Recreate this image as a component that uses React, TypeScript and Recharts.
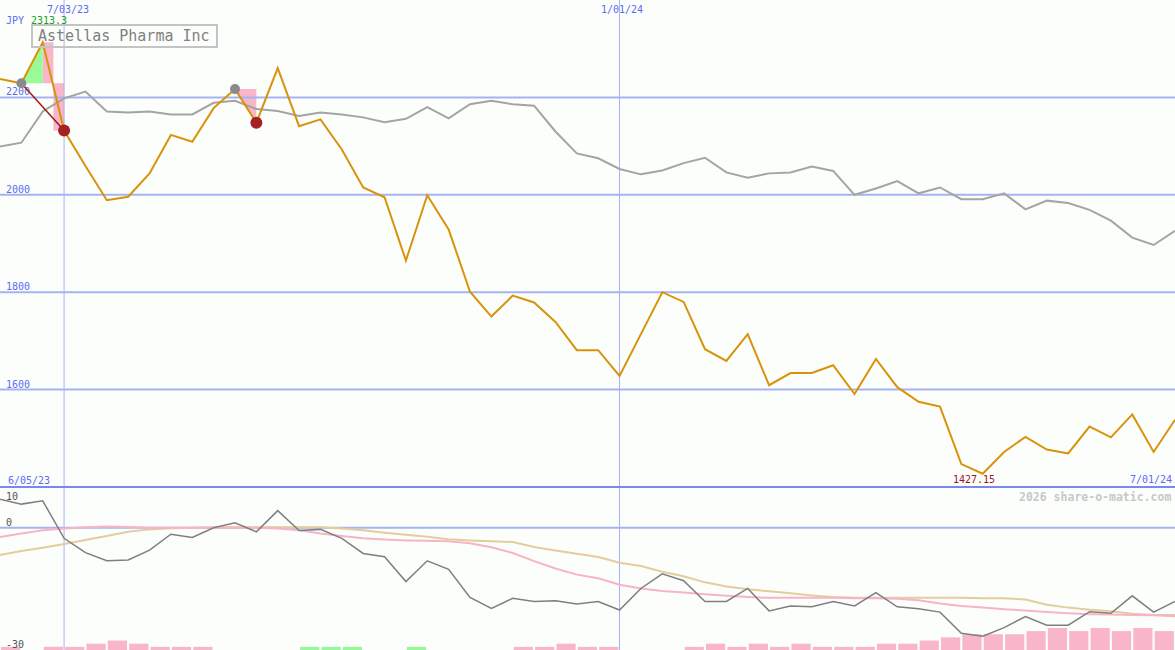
import React from "react";
import {
  ComposedChart,
  Line,
  Area,
  Bar,
  Cell,
  XAxis,
  YAxis,
  ReferenceLine,
  ReferenceArea,
  ReferenceDot,
} from "recharts";

// weekly closes, 6/12/23 .. 7/01/24 (JPY)
const price = [
  2238, 2229, 2313.3, 2132, 2059, 1989, 1996, 2044, 2123, 2109, 2178, 2217, 2148, 2260,
  2141, 2155, 2093, 2015, 1995, 1865, 1999, 1929, 1801, 1750, 1793, 1779, 1739, 1681,
  1681, 1628, 1714, 1800, 1780, 1683, 1659, 1714, 1609, 1634, 1634, 1650, 1591, 1663,
  1605, 1575, 1565, 1447, 1427.15, 1472, 1503, 1477, 1469, 1524, 1502, 1549, 1472, 1538,
];
// grey comparison line
const market = [
  2099, 2107, 2171, 2198, 2212, 2171, 2169, 2171, 2165, 2165, 2189, 2193, 2176, 2172,
  2162, 2169, 2165, 2159, 2149, 2156, 2180, 2157, 2186, 2193, 2186, 2183, 2130, 2085,
  2075, 2053, 2042, 2050, 2065, 2076, 2046, 2035, 2044, 2046, 2058, 2049, 2000, 2013,
  2028, 2003, 2015, 1991, 1991, 2003, 1970, 1988, 1983, 1969, 1947, 1912, 1897, 1926,
];
// lower panel
const momentum = [
  7.0, 5.8, 6.6, -2.6, -6.1, -8.1, -7.9, -5.5, -1.6, -2.4, 0.0, 1.2, -1.0, 4.2,
  -0.7, -0.4, -2.6, -6.3, -7.1, -13.2, -8.1, -10.2, -17.1, -19.8, -17.3, -18.1, -17.9, -18.7,
  -18.1, -20.2, -14.9, -11.3, -13.0, -18.1, -18.1, -14.9, -20.4, -19.2, -19.4, -18.1, -19.2, -15.9,
  -19.4, -19.9, -20.7, -25.9, -26.6, -24.5, -21.8, -23.9, -23.9, -20.6, -21.0, -16.7, -20.7, -18.1,
];
const fastAvg = [
  -2.3, -1.4, -0.6, -0.2, 0.1, 0.3, 0.2, 0.0, 0.0, 0.0, 0.0, 0.0, 0.0, -0.2,
  -0.6, -1.4, -2.0, -2.6, -2.9, -3.1, -3.2, -3.3, -3.8, -4.8, -6.2, -8.2, -10.0, -11.5,
  -12.4, -14.0, -14.9, -15.5, -15.9, -16.3, -16.7, -17.0, -17.2, -17.2, -17.2, -17.2, -17.3, -17.3,
  -17.4, -17.8, -18.6, -19.2, -19.6, -20.0, -20.3, -20.7, -21.0, -21.2, -21.3, -21.4, -21.5, -21.7,
];
const slowAvg = [
  -6.7, -5.7, -4.9, -4.0, -3.0, -2.0, -1.0, -0.4, -0.1, 0.0, 0.1, 0.1, 0.1, 0.1,
  0.1, 0.1, -0.2, -0.6, -1.2, -1.7, -2.2, -2.8, -3.1, -3.3, -3.5, -4.7, -5.6, -6.4,
  -7.2, -8.6, -9.4, -10.8, -11.9, -13.4, -14.4, -15.1, -15.6, -16.1, -16.6, -17.0, -17.2, -17.2,
  -17.2, -17.2, -17.2, -17.2, -17.3, -17.3, -17.6, -18.9, -19.6, -20.1, -20.5, -21.1, -21.4, -21.4,
];
// histogram blocks: negative = pink, positive = green
const blocks = [
  -1, 0, -1, -1, -2, -3, -2, -1, -1, -1, 0, 0, 0, 0,
  1, 1, 1, 0, 0, 1, 0, 0, 0, 0, -1, -1, -2, -1,
  -1, 0, 0, 0, -1, -2, -1, -2, -1, -2, -1, -1, -1, -2,
  -2, -3, -4, -5, -5, -5, -6, -7, -6, -7, -6, -7, -6, 0,
];

const mainTicks = [1600, 1800, 2000, 2200];
const lowTicks = [-30, 0, 10];
const dateIdx = [3, 29];
const dateText = ["7/03/23", "1/01/24"];
const sigFrom = [1, 11];
const sigTo = [3, 12];

const W = 1175;
const LAST = price.length - 1;
const BG = "#fcfefc";
const GRID = "#a6b3f2";
const BLUE = "#5b6cf2";
const FONT = "'DejaVu Sans Mono', monospace";

const mainData = price.map((p, i) => ({
  i,
  price: p,
  market: market[i],
  rise: i === sigFrom[0] ? [p, p] : i === sigFrom[0] + 1 ? [price[sigFrom[0]], p] : null,
  drop: i === sigFrom[1] ? [p, p] : i === sigTo[1] ? [p, price[sigFrom[1]]] : null,
  sig: i === sigFrom[0] || i === sigTo[0] ? p : null,
}));

const lowData = momentum.map((m, i) => ({
  i,
  bx: i + 0.5,
  mom: m,
  fast: fastAvg[i],
  slow: slowAvg[i],
  block: Math.abs(blocks[i]),
}));

function GridLabel(props: any) {
  const { viewBox, text, dy, color } = props;
  if (!viewBox) return null;
  return (
    <text x={6} y={viewBox.y + dy} fill={color} fontSize={10} fontFamily={FONT}>
      {text}
    </text>
  );
}

export default function App() {
  const pk = sigFrom[0] + 1;
  return (
    <div style={{ position: "absolute", left: 0, top: 0, width: W, height: 650, background: BG, overflow: "hidden" }}>
      <div style={{ position: "absolute", left: 0, top: 0 }}>
        <ComposedChart width={W} height={487} data={mainData} margin={{ top: 0, right: 0, bottom: 0, left: 0 }}>
          <XAxis dataKey="i" type="number" domain={[0, LAST]} hide allowDataOverflow />
          <YAxis domain={[1400, 2400]} hide />
          {mainTicks.map((v) => (
            <ReferenceLine
              key={v}
              y={v}
              stroke={GRID}
              strokeWidth={2}
              label={<GridLabel text={String(v)} dy={-2} color={BLUE} />}
            />
          ))}
          {dateIdx.map((d) => (
            <ReferenceLine key={d} x={d} stroke={GRID} strokeWidth={1} />
          ))}
          <ReferenceArea x1={pk} x2={pk + 0.5} y1={price[sigFrom[0]]} y2={price[pk]} fill="#f9b6c9" fillOpacity={1} stroke="none" />
          <ReferenceArea x1={pk + 0.5} x2={sigTo[0]} y1={price[sigTo[0]]} y2={price[sigFrom[0]]} fill="#f9b6c9" fillOpacity={1} stroke="none" />
          <Area dataKey="rise" fill="#98fb98" fillOpacity={1} stroke="none" dot={false} activeDot={false} isAnimationActive={false} />
          <Area dataKey="drop" fill="#f9b6c9" fillOpacity={1} stroke="none" dot={false} activeDot={false} isAnimationActive={false} />
          {sigTo.map((t) => (
            <ReferenceDot key={"t" + t} x={t} y={price[t]} r={6} fill="#a52222" stroke="none" />
          ))}
          {sigFrom.map((f) => (
            <ReferenceDot key={"f" + f} x={f} y={price[f]} r={5} fill="#8a8a8a" stroke="none" />
          ))}
          <Line dataKey="market" stroke="#a4a4a4" strokeWidth={2} dot={false} activeDot={false} isAnimationActive={false} />
          <Line dataKey="sig" stroke="#a01818" strokeWidth={1.5} dot={false} activeDot={false} connectNulls isAnimationActive={false} />
          <Line dataKey="price" stroke="#d9930a" strokeWidth={2} dot={false} activeDot={false} isAnimationActive={false} />
        </ComposedChart>
      </div>

      <div style={{ position: "absolute", left: 0, top: 485 }}>
        <ComposedChart width={W} height={165} data={lowData} margin={{ top: 2, right: 0, bottom: 0, left: 0 }}>
          <XAxis dataKey="i" type="number" domain={[0, LAST]} hide allowDataOverflow />
          <XAxis xAxisId="b" dataKey="bx" type="number" domain={[0, LAST]} hide allowDataOverflow />
          <YAxis domain={[-30, 10]} hide />
          <YAxis yAxisId="v" domain={[0, 51.7]} hide />
          <ReferenceLine y={0} stroke={GRID} strokeWidth={2} label={<GridLabel text="0" dy={-2} color="#555" />} />
          <ReferenceLine y={lowTicks[0]} stroke="none" label={<GridLabel text={String(lowTicks[0])} dy={-2} color="#555" />} />
          {dateIdx.map((d) => (
            <ReferenceLine key={d} x={d} stroke={GRID} strokeWidth={1} />
          ))}
          <Bar dataKey="block" xAxisId="b" yAxisId="v" barSize={W / LAST} isAnimationActive={false}>
            {lowData.map((d, i) => (
              <Cell key={i} fill={blocks[i] > 0 ? "#98f898" : "#f9b6c9"} />
            ))}
          </Bar>
          <Line dataKey="slow" stroke="#e3cd9d" strokeWidth={2} dot={false} activeDot={false} isAnimationActive={false} />
          <Line dataKey="fast" stroke="#f9b3c7" strokeWidth={2} dot={false} activeDot={false} isAnimationActive={false} />
          <Line dataKey="mom" stroke="#7f7f7f" strokeWidth={1.5} dot={false} activeDot={false} isAnimationActive={false} />
          <ReferenceLine
            y={lowTicks[2]}
            stroke="#7888ee"
            strokeWidth={2}
            label={<GridLabel text={String(lowTicks[2])} dy={13} color="#555" />}
          />
        </ComposedChart>
      </div>

      <svg width={W} height={650} style={{ position: "absolute", left: 0, top: 0, pointerEvents: "none" }} fontFamily={FONT}>
        <text x={6} y={24} fontSize={10} fill={BLUE}>JPY</text>
        <text x={31} y={24} fontSize={10} fill="#20a020">{price[pk]}</text>
        <text x={47} y={13} fontSize={10} fill={BLUE}>{dateText[0]}</text>
        <text x={601} y={13} fontSize={10} fill={BLUE}>{dateText[1]}</text>
        <rect x={32} y={25} width={185} height={22} fill="none" stroke="#c4c4c4" strokeWidth={2} />
        <text x={38} y={41} fontSize={15} fill="#808080">Astellas Pharma Inc</text>
        <text x={8} y={484} fontSize={10} fill={BLUE}>6/05/23</text>
        <text x={953} y={483} fontSize={10} fill="#a01818">{Math.min(...price)}</text>
        <text x={1130} y={483} fontSize={10} fill={BLUE}>7/01/24</text>
        <text x={1019} y={501} fontSize={11.5} fontWeight="bold" fill="#c8c8c8">2026 share-o-matic.com</text>
      </svg>
    </div>
  );
}
